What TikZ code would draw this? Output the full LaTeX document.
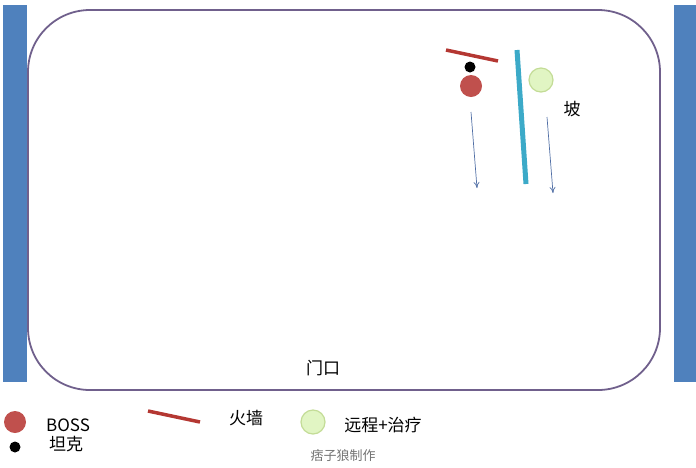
\documentclass[tikz,border=0pt]{standalone}
\usepackage{fontspec}
\newfontfamily\cjk{Noto Sans CJK SC}
\usetikzlibrary{arrows.meta}
\definecolor{wallblue}{RGB}{79,129,189}
\definecolor{roomline}{RGB}{112,96,140}
\definecolor{bossred}{RGB}{192,80,77}
\definecolor{firered}{RGB}{180,55,50}
\definecolor{slopecyan}{RGB}{60,170,200}
\definecolor{healfill}{RGB}{225,245,195}
\definecolor{healdraw}{RGB}{195,220,150}
\definecolor{movearrow}{RGB}{80,110,165}
\tikzset{
  bossdot/.style={circle, fill=bossred, minimum size=22pt, inner sep=0pt},
  tankdot/.style={circle, fill=black, minimum size=11pt, inner sep=0pt},
  healdot/.style={circle, fill=healfill, draw=healdraw, line width=1.2pt, minimum size=24pt, inner sep=0pt},
  firewall/.style={firered, line width=3.5pt},
  slope/.style={slopecyan, line width=5pt},
  move/.style={movearrow, line width=0.7pt, -{To[length=6pt, width=6pt]}},
  label/.style={font=\cjk\fontsize{17}{17}\selectfont, inner sep=0pt}
}
\begin{document}
\begin{tikzpicture}[x=1pt, y=-1pt]
\useasboundingbox (0,0) rectangle (696,467);
% walls and room
\fill[wallblue] (3,5) rectangle (27,382);
\fill[wallblue] (674,5) rectangle (696,382);
\draw[roomline, line width=1.8pt, rounded corners=62pt] (28,10) rectangle (660,390);
% fire wall, boss, tank
\coordinate (fwa) at (446,50);
\coordinate (fwb) at (498,61);
\draw[firewall] (fwa) -- (fwb);
\node[tankdot] (tank) at (470,67) {};
\node[bossdot] (boss) at (471,86) {};
% slope
\coordinate (slopea) at (517,50);
\coordinate (slopeb) at (526,184);
\draw[slope] (slopea) -- (slopeb);
\node[healdot] (heal) at (541,80) {};
\node[label] (po) at (572,109) {坡};
% movement
\coordinate (bossgo) at (471,112);
\coordinate (bossto) at (477,188);
\draw[move] (bossgo) -- (bossto);
\coordinate (healgo) at (547,117);
\coordinate (healto) at (553,193);
\draw[move] (healgo) -- (healto);
\node[label] (door) at (323,368) {门口};
% legend
\node[bossdot] (keyboss) at (15,422) {};
\node[label] (keybosstext) at (68,425) {BOSS};
\node[tankdot] (keytank) at (15,447) {};
\node[label] (keytanktext) at (66,444) {坦克};
\coordinate (keyfwa) at (148,411);
\coordinate (keyfwb) at (200,422);
\draw[firewall] (keyfwa) -- (keyfwb);
\node[label] (keyfwtext) at (246,418) {火墙};
\node[healdot] (keyheal) at (313,422) {};
\node[label] (keyhealtext) at (383,425) {远程+治疗};
\node[font=\cjk\fontsize{13}{13}\selectfont, text=black!55, inner sep=0pt] (maker) at (343,456) {痞子狼制作};
\end{tikzpicture}
\end{document}
